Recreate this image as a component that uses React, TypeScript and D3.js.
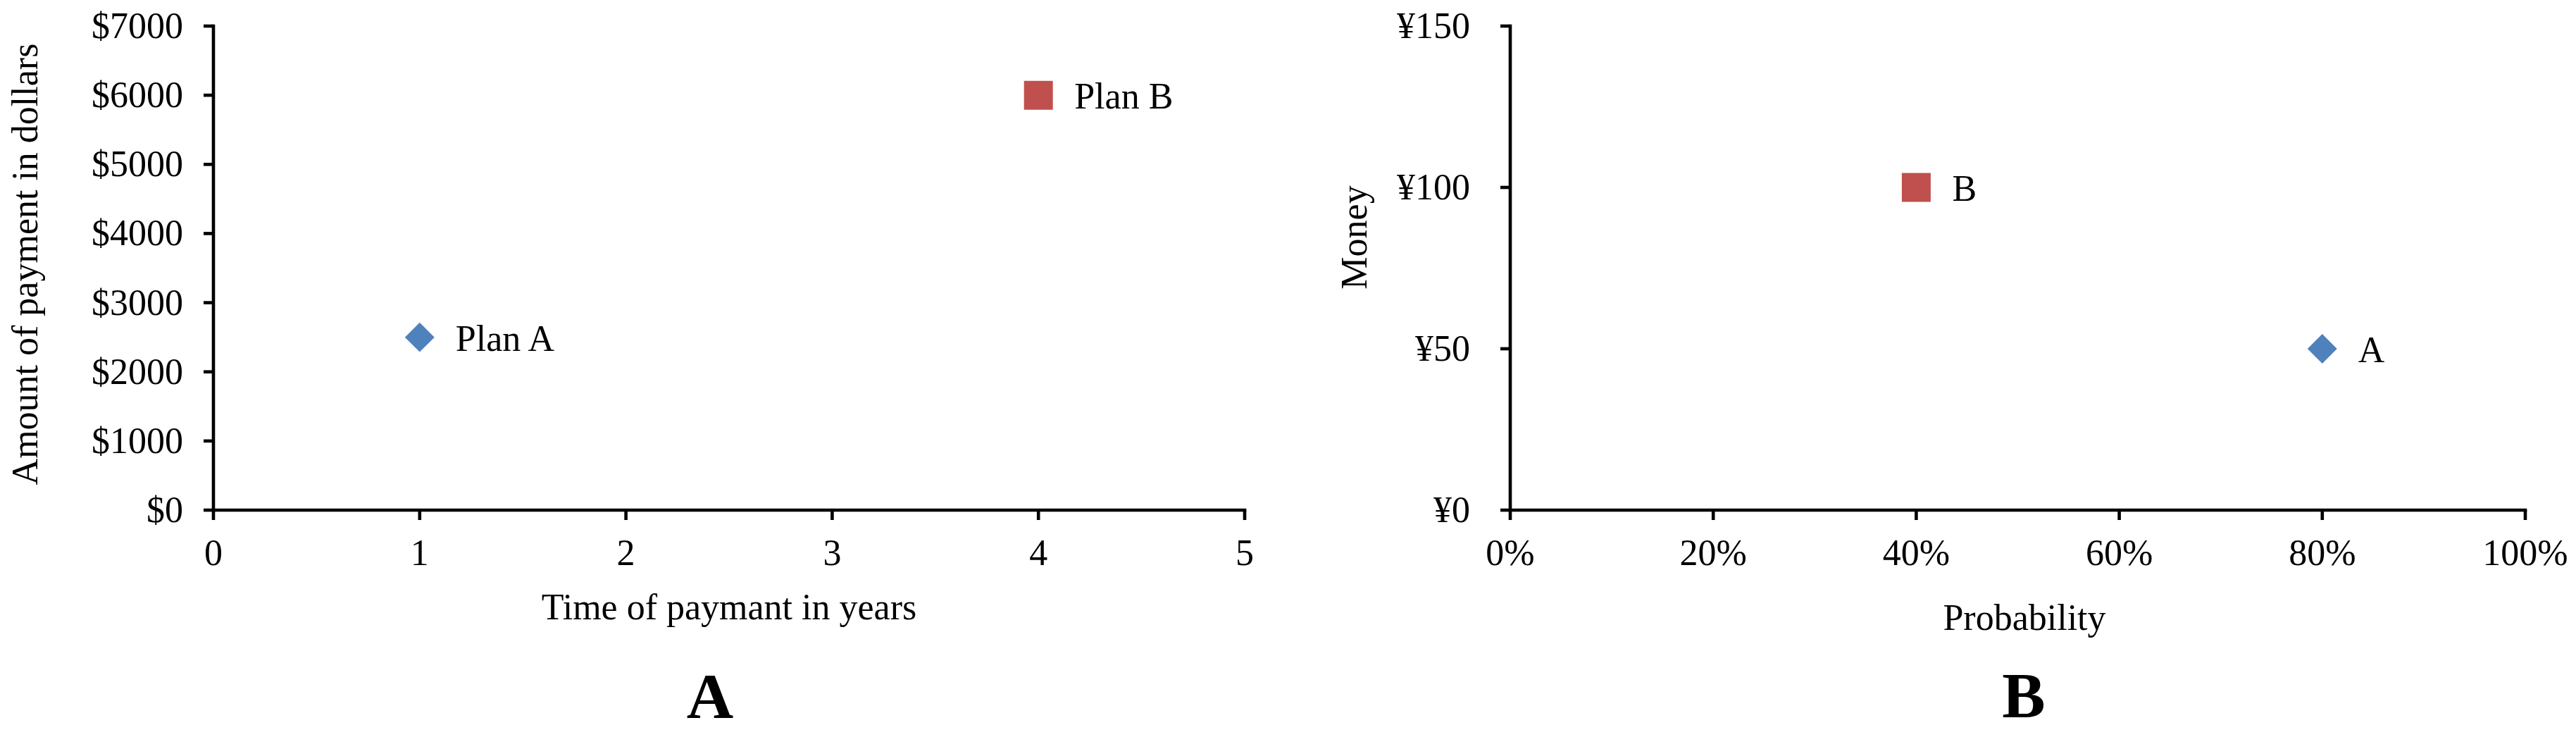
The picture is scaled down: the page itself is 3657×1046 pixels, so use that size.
import React from "react";
import * as d3 from "d3";

const planNames = ["Plan A", "Plan B"];
const planYears = [1, 4];
const planAmounts = [2500, 6000];
const planShapes = ["diamond", "square"];

const choiceNames = ["A", "B"];
const choiceProb = [0.8, 0.4];
const choiceMoney = [50, 100];
const choiceShapes = ["diamond", "square"];

const leftXTicks = [0, 1, 2, 3, 4, 5];
const leftYTicks = [0, 1000, 2000, 3000, 4000, 5000, 6000, 7000];
const rightXTicks = [0, 0.2, 0.4, 0.6, 0.8, 1];
const rightYTicks = [0, 50, 100, 150];

const FONT = "'Times New Roman', 'Liberation Serif', serif";
const BLUE = "#4F81BD";
const RED = "#C0504D";
const AXW = 4.6;
const TICK = 14;

function Marker({ shape, x, y }: { shape: string; x: number; y: number }) {
  if (shape === "diamond") {
    const p = d3.symbol().type(d3.symbolSquare).size(880)();
    return <path d={p as string} transform={`translate(${x},${y}) rotate(45)`} fill={BLUE} />;
  }
  const p = d3.symbol().type(d3.symbolSquare).size(1680)();
  return <path d={p as string} transform={`translate(${x},${y})`} fill={RED} />;
}

function Axes({ xs, ys, xTicks, yTicks, xFmt, yFmt, yLabelGap }: any) {
  const [x0, x1] = xs.range();
  const [y0, y1] = ys.range();
  return (
    <g>
      <line x1={x0} x2={x1 + AXW / 2} y1={y0} y2={y0} stroke="#000" strokeWidth={AXW} />
      <line x1={x0} x2={x0} y1={y0 + AXW / 2} y2={y1 - AXW / 2} stroke="#000" strokeWidth={AXW} />
      {xTicks.map((t: number) => (
        <g key={"x" + t}>
          <line x1={xs(t)} x2={xs(t)} y1={y0} y2={y0 + TICK} stroke="#000" strokeWidth={AXW} />
          <text x={xs(t)} y={802} textAnchor="middle" fontSize={52} fontFamily={FONT}>
            {xFmt(t)}
          </text>
        </g>
      ))}
      {yTicks.map((t: number) => (
        <g key={"y" + t}>
          <line x1={x0 - TICK} x2={x0} y1={ys(t)} y2={ys(t)} stroke="#000" strokeWidth={AXW} />
          <text x={x0 - yLabelGap} y={ys(t) + 17} textAnchor="end" fontSize={52} fontFamily={FONT}>
            {yFmt(t)}
          </text>
        </g>
      ))}
    </g>
  );
}

export default function App() {
  const lx = d3.scaleLinear().domain([0, 5]).range([303, 1767]);
  const ly = d3.scaleLinear().domain([0, 7000]).range([724, 37]);
  const rx = d3.scaleLinear().domain([0, 1]).range([2144, 3585]);
  const ry = d3.scaleLinear().domain([0, 150]).range([724, 37]);

  return (
    <svg
      width={3657}
      height={1046}
      style={{ position: "absolute", left: 0, top: 0, background: "#fff" }}
    >
      <rect x={0} y={0} width={3657} height={1046} fill="#fff" />
      <Axes
        xs={lx}
        ys={ly}
        xTicks={leftXTicks}
        yTicks={leftYTicks}
        xFmt={(t: number) => String(t)}
        yFmt={(t: number) => "$" + t}
        yLabelGap={43}
      />
      <Axes
        xs={rx}
        ys={ry}
        xTicks={rightXTicks}
        yTicks={rightYTicks}
        xFmt={(t: number) => Math.round(t * 100) + "%"}
        yFmt={(t: number) => "¥" + t}
        yLabelGap={57}
      />

      {planNames.map((n, i) => (
        <g key={n}>
          <Marker shape={planShapes[i]} x={lx(planYears[i])} y={ly(planAmounts[i])} />
          <text x={lx(planYears[i]) + 51} y={ly(planAmounts[i]) + 19} fontSize={52} fontFamily={FONT}>
            {n}
          </text>
        </g>
      ))}
      {choiceNames.map((n, i) => (
        <g key={n}>
          <Marker shape={choiceShapes[i]} x={rx(choiceProb[i])} y={ry(choiceMoney[i])} />
          <text x={rx(choiceProb[i]) + 51} y={ry(choiceMoney[i]) + 19} fontSize={52} fontFamily={FONT}>
            {n}
          </text>
        </g>
      ))}

      <text x={1035} y={879} textAnchor="middle" fontSize={52} fontFamily={FONT}>
        Time of paymant in years
      </text>
      <text x={2874} y={894} textAnchor="middle" fontSize={52} fontFamily={FONT}>
        Probability
      </text>
      <text
        transform="translate(53,375) rotate(-90)"
        textAnchor="middle"
        fontSize={52}
        fontFamily={FONT}
      >
        Amount of payment in dollars
      </text>
      <text
        transform="translate(1940,337) rotate(-90)"
        textAnchor="middle"
        fontSize={52}
        fontFamily={FONT}
      >
        Money
      </text>

      <text x={1008} y={1019} textAnchor="middle" fontSize={92} fontWeight="bold" fontFamily={FONT}>
        A
      </text>
      <text x={2873} y={1018} textAnchor="middle" fontSize={92} fontWeight="bold" fontFamily={FONT}>
        B
      </text>
    </svg>
  );
}
